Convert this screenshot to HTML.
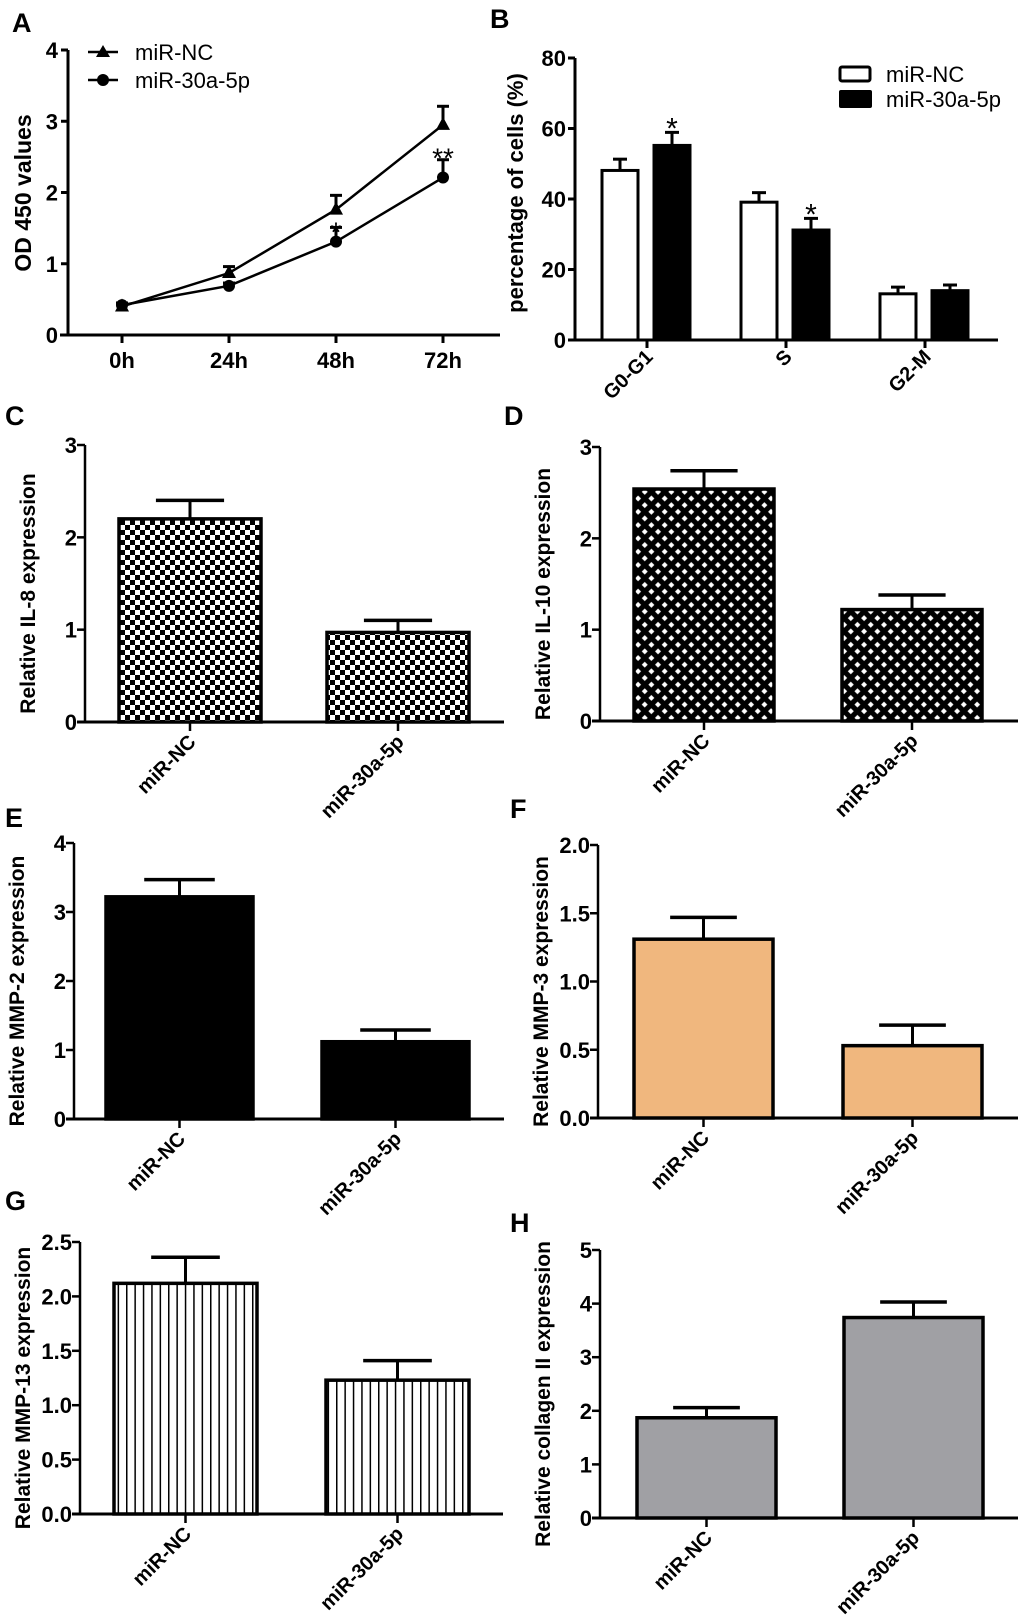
<!DOCTYPE html>
<html><head><meta charset="utf-8"><style>
html,body{margin:0;padding:0;background:#fff;}
svg{display:block;font-family:"Liberation Sans",Arial,sans-serif;}
</style></head><body>
<svg id="fig" width="1020" height="1623" viewBox="0 0 1020 1623" xmlns="http://www.w3.org/2000/svg">
<defs>
<pattern id="checker" width="10" height="10" patternUnits="userSpaceOnUse"><rect width="10" height="10" fill="#fff"/><rect width="5" height="5" fill="#000"/><rect x="5" y="5" width="5" height="5" fill="#000"/></pattern>
<pattern id="diamond" width="9.4" height="9.4" patternUnits="userSpaceOnUse" patternTransform="rotate(45)"><rect width="9.4" height="9.4" fill="#000"/><rect x="2.6" y="2.6" width="4.2" height="4.2" fill="#fff"/></pattern>
<pattern id="vstripe" width="8.4" height="10" patternUnits="userSpaceOnUse"><rect width="8.4" height="10" fill="#fff"/><rect width="1.5" height="10" fill="#000"/></pattern>
</defs>
</svg>
<script>
// Panel A data
const aTimes = ["0h","24h","48h","72h"];
const aNC = [0.40, 0.87, 1.76, 2.95];
const aNCerr = [0.04, 0.09, 0.20, 0.26];
const a30 = [0.42, 0.69, 1.31, 2.21];
const a30err = [0.03, 0.04, 0.20, 0.25];
const aTicks = [0,1,2,3,4];
// Panel B data
const bCats = ["G0-G1","S","G2-M"];
const bNC = [48.1, 39.1, 13.1];
const bNCerr = [3.2, 2.7, 1.9];
const b30 = [55.2, 31.2, 14.0];
const b30err = [3.7, 3.3, 1.6];
const bTicks = [0,20,40,60,80];
// Panels C-H
const groups = ["miR-NC","miR-30a-5p"];
const cVals = [2.20, 0.97]; const cErr = [0.20, 0.13]; const cTicks = ["0","1","2","3"];
const dVals = [2.54, 1.22]; const dErr = [0.20, 0.16]; const dTicks = ["0","1","2","3"];
const eVals = [3.22, 1.12]; const eErr = [0.25, 0.17]; const eTicks = ["0","1","2","3","4"];
const fVals = [1.31, 0.53]; const fErr = [0.16, 0.15]; const fTicks = ["0.0","0.5","1.0","1.5","2.0"];
const gVals = [2.12, 1.23]; const gErr = [0.24, 0.18]; const gTicks = ["0.0","0.5","1.0","1.5","2.0","2.5"];
const hVals = [1.87, 3.74]; const hErr = [0.19, 0.29]; const hTicks = ["0","1","2","3","4","5"];

const svg = document.getElementById('fig');
const NS = "http://www.w3.org/2000/svg";
function mk(tag, attrs, parent){const e=document.createElementNS(NS,tag);for(const k in attrs)e.setAttribute(k,attrs[k]);(parent||svg).appendChild(e);return e;}
function txt(s, attrs, parent){const e=mk('text',attrs,parent);e.textContent=s;return e;}
function label(s,x,y){const t=txt(s,{x:x,y:y,'font-size':27,'font-weight':'bold'});

}

// ---------- Panel A ----------
(function(){
  const g=mk('g',{});
  
  
  const ax=68, y0=335, ytop=50, ymax=4;
  const sy=v=>y0-(v/ymax)*(y0-ytop);
  const sx=i=>122+i*107;
  mk('line',{x1:ax,y1:ytop,x2:ax,y2:y0,stroke:'#000','stroke-width':3},g);
  mk('line',{x1:60,y1:y0,x2:500,y2:y0,stroke:'#000','stroke-width':3},g);
  aTicks.forEach(v=>{mk('line',{x1:ax-7,y1:sy(v),x2:ax,y2:sy(v),stroke:'#000','stroke-width':3},g);
    const t=txt(String(v),{x:ax-10,y:sy(v)+8,'text-anchor':'end','font-size':22,'font-weight':'bold'},g);
    });
  aTimes.forEach((s,i)=>{mk('line',{x1:sx(i),y1:y0,x2:sx(i),y2:y0+8,stroke:'#000','stroke-width':3},g);
    const t=txt(s,{x:sx(i),y:368,'text-anchor':'middle','font-size':22,'font-weight':'bold'},g);
    });
  const yt=txt('OD 450 values',{x:0,y:0,transform:'translate(31,193) rotate(-90)','text-anchor':'middle','font-size':23,'font-weight':'bold'},g);
  
  function series(vals,errs,marker,name){
    const p=mk('polyline',{points:vals.map((v,i)=>sx(i)+','+sy(v)).join(' '),fill:'none',stroke:'#000','stroke-width':2.5},g);
    
    vals.forEach((v,i)=>{const x=sx(i),y=sy(v),ye=sy(v+errs[i]);
      mk('line',{x1:x,y1:y,x2:x,y2:ye,stroke:'#000','stroke-width':3},g);
      mk('line',{x1:x-6,y1:ye,x2:x+6,y2:ye,stroke:'#000','stroke-width':3},g);
      let m;
      if(marker==='tri') m=mk('polygon',{points:`${x},${y-8} ${x-7},${y+5} ${x+7},${y+5}`,fill:'#000'},g);
      else m=mk('circle',{cx:x,cy:y,r:6,fill:'#000'},g);
      });
  }
  series(aNC,aNCerr,'tri','mir-nc');
  series(a30,a30err,'circ','mir-30a-5p');
  txt('*',{x:sx(2),y:sy(a30[2]+a30err[2])+14,'text-anchor':'middle','font-size':28},g);
  txt('**',{x:sx(3),y:sy(a30[3]+a30err[3])+8,'text-anchor':'middle','font-size':28},g);
  // legend
  mk('line',{x1:88,y1:52,x2:118,y2:52,stroke:'#000','stroke-width':2.5},g);
  mk('polygon',{points:'103,45 96,57 110,57',fill:'#000'},g);
  mk('line',{x1:88,y1:80,x2:118,y2:80,stroke:'#000','stroke-width':2.5},g);
  mk('circle',{cx:103,cy:80,r:6,fill:'#000'},g);
  const l1=txt('miR-NC',{x:135,y:60,'font-size':22},g);
  const l2=txt('miR-30a-5p',{x:135,y:88,'font-size':22},g);
})();
label('A',12,32);

// ---------- Panel B ----------
(function(){
  const g=mk('g',{});
  
  
  const ax=575,y0=340,ytop=58,ymax=80;
  const sy=v=>y0-(v/ymax)*(y0-ytop);
  const cx=i=>647+i*139;
  const bw=36;
  mk('line',{x1:ax,y1:ytop,x2:ax,y2:y0,stroke:'#000','stroke-width':3},g);
  mk('line',{x1:ax,y1:y0,x2:998,y2:y0,stroke:'#000','stroke-width':3},g);
  bTicks.forEach(v=>{mk('line',{x1:ax-7,y1:sy(v),x2:ax,y2:sy(v),stroke:'#000','stroke-width':3},g);
    const t=txt(String(v),{x:ax-9,y:sy(v)+8,'text-anchor':'end','font-size':22,'font-weight':'bold'},g);
    });
  bCats.forEach((s,i)=>{const x=cx(i);
    mk('line',{x1:x,y1:y0,x2:x,y2:y0+8,stroke:'#000','stroke-width':3},g);
    const t=txt(s,{x:0,y:0,transform:`translate(${x+7},${y0+18}) rotate(-45)`,'text-anchor':'end','font-size':20,'font-weight':'bold'},g);
    
    [[bNC,bNCerr,'#fff',x-45,'nc'],[b30,b30err,'#000',x+7,'30a']].forEach(([vals,errs,fill,bx,nm])=>{
      const v=vals[i],yt=sy(v),ye=sy(v+errs[i]),mx=bx+bw/2;
      mk('line',{x1:mx,y1:yt,x2:mx,y2:ye,stroke:'#000','stroke-width':3},g);
      mk('line',{x1:mx-7,y1:ye,x2:mx+7,y2:ye,stroke:'#000','stroke-width':3},g);
      const r=mk('rect',{x:bx,y:yt,width:bw,height:y0-yt,fill:fill,stroke:'#000','stroke-width':3},g);
      
    });
  });
  txt('*',{x:cx(0)+25,y:sy(b30[0]+b30err[0])+6,'text-anchor':'middle','font-size':30},g);
  txt('*',{x:cx(1)+25,y:sy(b30[1]+b30err[1])+6,'text-anchor':'middle','font-size':30},g);
  const yt=txt('percentage of cells (%)',{x:0,y:0,transform:'translate(523,193) rotate(-90)','text-anchor':'middle','font-size':22,'font-weight':'bold'},g);
  
  mk('rect',{x:840,y:67,width:30,height:14,fill:'#fff',stroke:'#000','stroke-width':3,rx:2},g);
  mk('rect',{x:839,y:90,width:33,height:18,fill:'#000',rx:2},g);
  const l1=txt('miR-NC',{x:886,y:82,'font-size':22},g);
  const l2=txt('miR-30a-5p',{x:886,y:107,'font-size':22},g);
})();
label('B',490,28);

// ---------- Panels C-H ----------
function barPanel(cfg){
  const g=mk('g',{});
  
  
  const nt=cfg.ticks.length-1, ymax=parseFloat(cfg.ticks[nt]);
  const sy=v=>cfg.y0-(v/ymax)*(cfg.y0-cfg.ytop);
  mk('line',{x1:cfg.ax,y1:cfg.ytop,x2:cfg.ax,y2:cfg.y0,stroke:'#000','stroke-width':2.5},g);
  mk('line',{x1:cfg.ax-8,y1:cfg.y0,x2:cfg.xend,y2:cfg.y0,stroke:'#000','stroke-width':3},g);
  cfg.ticks.forEach(s=>{const y=sy(parseFloat(s));
    mk('line',{x1:cfg.ax-8,y1:y,x2:cfg.ax,y2:y,stroke:'#000','stroke-width':2.5},g);
    const t=txt(s,{x:cfg.ax-8,y:y+8,'text-anchor':'end','font-size':22,'font-weight':'bold'},g);
    });
  groups.forEach((s,i)=>{
    const bx=cfg.bars[i], bw=cfg.bw, mx=bx+bw/2, v=cfg.vals[i], yt=sy(v), ye=sy(v+cfg.errs[i]);
    mk('line',{x1:mx,y1:yt,x2:mx,y2:ye,stroke:'#000','stroke-width':3},g);
    mk('line',{x1:mx-bw*0.24,y1:ye,x2:mx+bw*0.24,y2:ye,stroke:'#000','stroke-width':3.5},g);
    const r=mk('rect',{x:bx,y:yt,width:bw,height:cfg.y0-yt,fill:cfg.fill,stroke:'#000','stroke-width':3.5},g);
    
    mk('line',{x1:mx,y1:cfg.y0,x2:mx,y2:cfg.y0+9,stroke:'#000','stroke-width':2.5},g);
    const t=txt(s,{x:0,y:0,transform:`translate(${mx+7},${cfg.y0+21}) rotate(-45)`,'text-anchor':'end','font-size':20,'font-weight':'bold'},g);
    
  });
  const yt=txt(cfg.title,{x:0,y:0,transform:`translate(${cfg.ax-50},${(cfg.ytop+cfg.y0)/2+10}) rotate(-90)`,'text-anchor':'middle','font-size':21,'font-weight':'bold'},g);
  
}
barPanel({id:'c',ax:85,y0:722,ytop:445,xend:504,bars:[119,327],bw:142,vals:cVals,errs:cErr,ticks:cTicks,fill:'url(#checker)',title:'Relative IL-8 expression'});
barPanel({id:'d',ax:600,y0:721,ytop:447,xend:1018,bars:[634,842],bw:140,vals:dVals,errs:dErr,ticks:dTicks,fill:'url(#diamond)',title:'Relative IL-10 expression'});
barPanel({id:'e',ax:74,y0:1119,ytop:843,xend:504,bars:[106,322],bw:147,vals:eVals,errs:eErr,ticks:eTicks,fill:'#000',title:'Relative MMP-2  expression'});
barPanel({id:'f',ax:598,y0:1118,ytop:845,xend:1018,bars:[634,843],bw:139,vals:fVals,errs:fErr,ticks:fTicks,fill:'#f0b77e',title:'Relative MMP-3 expression'});
barPanel({id:'g',ax:80,y0:1514,ytop:1242,xend:503,bars:[114,326],bw:143,vals:gVals,errs:gErr,ticks:gTicks,fill:'url(#vstripe)',title:'Relative MMP-13 expression'});
barPanel({id:'h',ax:600,y0:1518,ytop:1250,xend:1018,bars:[637,844],bw:139,vals:hVals,errs:hErr,ticks:hTicks,fill:'#a0a0a4',title:'Relative collagen II  expression'});
label('C',5,425);
label('D',504,425);
label('E',5,827);
label('F',510,818);
label('G',5,1210);
label('H',510,1232);
</script>
</body></html>
